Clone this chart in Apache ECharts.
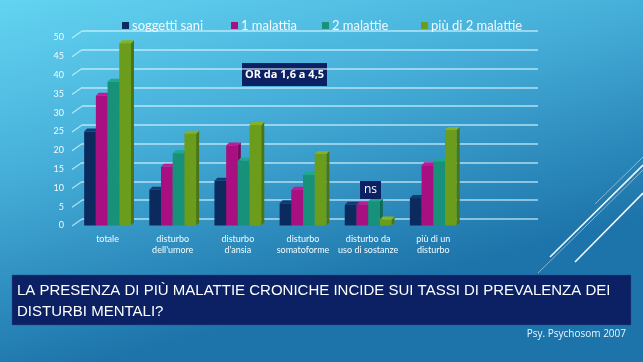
<!DOCTYPE html>
<html><head><meta charset="utf-8">
<script src="https://cdn.jsdelivr.net/npm/echarts@6/dist/echarts.min.js"></script>
<style>html,body{margin:0;padding:0;}#c{width:643px;height:362px;}</style>
</head><body><div id="c"></div>
<script>
const categories = ['totale', "disturbo\ndell'umore", "disturbo\nd'ansia", 'disturbo\nsomatoforme', 'disturbo da\nuso di sostanze', 'più di un\ndisturbo'];
const seriesNames = ['soggetti sani', '1 malattia', '2 malattie', 'più di 2 malattie'];
const sani = [25, 9.5, 11.9, 5.9, 5.5, 7.3];
const malattia1 = [34.5, 15.6, 21.3, 9.5, 5.5, 16];
const malattie2 = [38.2, 19.2, 17.2, 13.4, 6.4, 17];
const piuDi2 = [48.5, 24.4, 26.7, 19, 1.6, 25.4];
const yTicks = [0, 5, 10, 15, 20, 25, 30, 35, 40, 45, 50];
const colors = ['#0b2b5e', '#a80f80', '#17917a', '#6b9c1c'];
const topColors = ['#123a78', '#c01896', '#20a88c', '#82b326'];
const sideColors = ['#081e44', '#7a0a5c', '#0f6a58', '#4d7412'];

const chart = echarts.init(document.getElementById('c'));
const allData = [sani, malattia1, malattie2, piuDi2];
const axisCats = categories.concat(['']);
const BW = 11.7, DX = 3, DY = 3;

function makeBar(idx) {
  return {
    type: 'custom', name: seriesNames[idx], xAxisIndex: 0, yAxisIndex: 0,
    itemStyle: { color: colors[idx] },
    data: allData[idx].map((v, i) => [i, v]),
    renderItem: function (params, api) {
      const c = api.coord([api.value(0), api.value(1)]);
      const b = api.coord([api.value(0), 0]);
      const x0 = c[0] - 2 * BW + idx * BW;
      const t = c[1], bo = b[1];
      return {
        type: 'group', children: [
          { type: 'polygon', shape: { points: [[x0 + BW, t], [x0 + BW + DX, t - DY], [x0 + BW + DX, bo - DY], [x0 + BW, bo]] }, style: { fill: sideColors[idx] } },
          { type: 'polygon', shape: { points: [[x0, t], [x0 + DX, t - DY], [x0 + BW + DX, t - DY], [x0 + BW, t]] }, style: { fill: topColors[idx] } },
          { type: 'rect', shape: { x: x0, y: t, width: BW, height: bo - t }, style: { fill: colors[idx] } }
        ]
      };
    }
  };
}

const legendLefts = [117, 226, 317, 416];
const option = {
  animation: false,
  graphic: [
    { type: 'rect', z: -10, shape: { x: 0, y: 0, width: 643, height: 362 },
      style: { fill: new echarts.graphic.LinearGradient(0, 0, 0.15, 1, [
        { offset: 0, color: '#63d4f1' }, { offset: 0.45, color: '#46afd9' }, { offset: 1, color: '#1d74aa' }]) } },
    { type: 'line', z: -5, shape: { x1: 595, y1: 204, x2: 643, y2: 157 }, style: { stroke: 'rgba(255,255,255,0.45)', lineWidth: 1 } },
    { type: 'line', z: -5, shape: { x1: 550, y1: 257, x2: 643, y2: 165 }, style: { stroke: 'rgba(255,255,255,0.95)', lineWidth: 1.6 } },
    { type: 'line', z: -5, shape: { x1: 538, y1: 273, x2: 643, y2: 170 }, style: { stroke: 'rgba(255,255,255,0.45)', lineWidth: 1 } },
    { type: 'line', z: -5, shape: { x1: 575, y1: 262, x2: 643, y2: 193 }, style: { stroke: 'rgba(255,255,255,0.95)', lineWidth: 1.6 } },
    { type: 'rect', shape: { x: 12, y: 275, width: 619, height: 50 }, style: { fill: '#0b2163', stroke: '#2a4d8a', lineWidth: 0.5 } },
    { type: 'text', left: 17, top: 280, style: { text: 'LA PRESENZA DI PIÙ MALATTIE CRONICHE INCIDE SUI TASSI DI PREVALENZA DEI\nDISTURBI MENTALI?', fill: '#ffffff', font: '15px "Liberation Sans Narrow", "Liberation Sans", sans-serif', lineHeight: 21 } },
    { type: 'text', right: 17, top: 329, style: { text: 'Psy. Psychosom 2007', fill: '#eaf4fb', font: '10px "Open Sans", sans-serif' } },
    { type: 'rect', shape: { x: 242, y: 63, width: 85, height: 23 }, style: { fill: '#0b2163' } },
    { type: 'text', x: 284.5, y: 74.5, style: { text: 'OR da 1,6 a 4,5', fill: '#ffffff', font: 'bold 11px "Open Sans", sans-serif', align: 'center', verticalAlign: 'middle' } },
    { type: 'rect', z: 10, shape: { x: 360, y: 181, width: 21, height: 18 }, style: { fill: '#0b2163' } },
    { type: 'text', z: 11, x: 370.5, y: 189.5, style: { text: 'ns', fill: '#ffffff', font: '12px "Open Sans", sans-serif', align: 'center', verticalAlign: 'middle' } }
  ],
  legend: seriesNames.map((n, i) => ({
    data: [n], left: legendLefts[i], top: 14, itemWidth: 7, itemHeight: 7, icon: 'rect', itemGap: 4,
    textStyle: { color: '#f2fbff', fontSize: 13, fontFamily: 'Lato, sans-serif', padding: [0, 0, 0, -2] }
  })),
  grid: [
    { left: 75, right: 112, top: 37.5, height: 188 },
    { left: 82, right: 105, top: 31, height: 188 }
  ],
  xAxis: [
    { type: 'category', gridIndex: 0, data: axisCats, axisLine: { show: false }, axisTick: { show: false },
      axisLabel: { interval: 0, color: '#f2fbff', fontSize: 9, fontFamily: 'Lato, sans-serif', margin: 8, lineHeight: 11 } },
    { type: 'category', gridIndex: 1, data: axisCats, show: false }
  ],
  yAxis: [
    { type: 'value', gridIndex: 0, min: 0, max: 50, interval: 5, splitLine: { show: false }, axisLine: { show: false }, axisTick: { show: false },
      axisLabel: { color: '#f2fbff', fontSize: 9, fontFamily: 'Lato, sans-serif', margin: 11 } },
    { type: 'value', gridIndex: 1, min: 0, max: 50, interval: 5, axisLabel: { show: false }, axisLine: { show: false }, axisTick: { show: false },
      splitLine: { show: true, lineStyle: { color: 'rgba(220,245,255,0.75)', width: 1.6 } } }
  ],
  series: [
    { type: 'custom', name: 'ticks', xAxisIndex: 0, yAxisIndex: 0, silent: true, z: 1,
      data: yTicks.map(v => [0, v]),
      renderItem: function (params, api) {
        const y = api.coord([0, api.value(1)])[1];
        const x = params.coordSys.x;
        return { type: 'line', shape: { x1: x - 3, y1: y + 0.5, x2: x + 7, y2: y - 6.5 }, style: { stroke: 'rgba(220,245,255,0.75)', lineWidth: 1.2 } };
      } },
    makeBar(0), makeBar(1), makeBar(2), makeBar(3)
  ]
};
chart.setOption(option);
</script></body></html>
